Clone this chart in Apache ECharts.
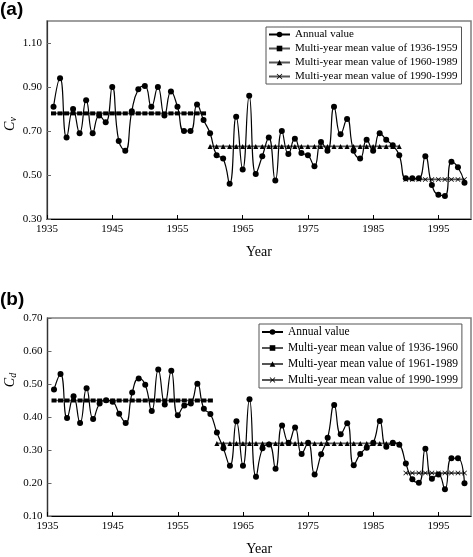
<!DOCTYPE html>
<html><head><meta charset="utf-8">
<script src="https://cdn.jsdelivr.net/npm/echarts@6/dist/echarts.min.js"></script>
<style>html,body{margin:0;padding:0;background:#fff}#c{width:473px;height:557px}</style>
</head><body><div id="c"></div>
<script>
const years = [1936,1937,1938,1939,1940,1941,1942,1943,1944,1945,
  1946,1947,1948,1949,1950,1951,1952,1953,1954,1955,
  1956,1957,1958,1959,1960,1961,1962,1963,1964,1965,
  1966,1967,1968,1969,1970,1971,1972,1973,1974,1975,
  1976,1977,1978,1979,1980,1981,1982,1983,1984,1985,
  1986,1987,1988,1989,1990,1991,1992,1993,1994,1995,
  1996,1997,1998,1999];
const cvValues = [0.81,0.94,0.67,0.80,0.69,0.84,0.69,0.77,0.74,0.90,
  0.655,0.61,0.79,0.89,0.905,0.81,0.90,0.77,0.88,0.81,
  0.70,0.70,0.82,0.75,0.69,0.59,0.575,0.46,0.765,0.525,
  0.86,0.505,0.585,0.67,0.475,0.70,0.595,0.665,0.60,0.59,
  0.54,0.65,0.61,0.81,0.685,0.755,0.61,0.575,0.66,0.61,
  0.69,0.66,0.635,0.59,0.485,0.485,0.485,0.585,0.455,0.41,
  0.405,0.56,0.535,0.465];
const cdValues = [0.483,0.53,0.397,0.463,0.382,0.487,0.394,0.441,0.451,0.446,
  0.41,0.382,0.474,0.517,0.498,0.418,0.544,0.438,0.54,0.405,
  0.435,0.441,0.501,0.425,0.409,0.353,0.305,0.252,0.387,0.252,
  0.454,0.219,0.305,0.317,0.243,0.374,0.322,0.368,0.288,0.322,
  0.226,0.287,0.337,0.436,0.348,0.381,0.254,0.288,0.307,0.322,
  0.388,0.31,0.322,0.316,0.259,0.211,0.201,0.304,0.213,0.226,
  0.181,0.275,0.275,0.199];
const cvPeriods = [[1936,1959],[1960,1989],[1990,1999]];
const cvMeans = [0.78,0.63,0.48];
const cdPeriods = [[1936,1960],[1961,1989],[1990,1999]];
const cdMeans = [0.45,0.32,0.23];
const xTicks = {min:1935, max:2000, interval:10};
const cvAxis = {min:0.3, max:1.2, interval:0.2};
const cdAxis = {min:0.1, max:0.7, interval:0.1};
const annualName = 'Annual value';
const cvMeanNames = ['Multi-year mean value of 1936-1959','Multi-year mean value of 1960-1989','Multi-year mean value of 1990-1999'];
const cdMeanNames = ['Multi-year mean value of 1936-1960','Multi-year mean value of 1961-1989','Multi-year mean value of 1990-1999'];

const SERIF = 'Liberation Serif';
const xMark = 'path://M0,1L1,0L5,4L9,0L10,1L6,5L10,9L9,10L5,6L1,10L0,9L4,5Z';
const meanSymbols = ['rect','triangle',xMark];
const meanSizes = [[5,4],5,5];

function pairs(vals){ return years.map((y,i)=>[y,vals[i]]); }
function meanData(period, m){ return years.filter(y=>y>=period[0]&&y<=period[1]).map(y=>[y,m]); }

function xAxisCfg(gi){
  return {type:'value', gridIndex:gi, min:xTicks.min, max:xTicks.max, interval:xTicks.interval,
    name:'Year', nameLocation:'middle', nameGap:26,
    nameTextStyle:{fontFamily:SERIF,fontSize:14,color:'#000'},
    axisLine:{show:true,lineStyle:{color:'#000',width:1.2}},
    axisTick:{show:true,inside:true,length:4,lineStyle:{color:'#000'}},
    axisLabel:{fontFamily:SERIF,fontSize:11,color:'#000',margin:5,showMaxLabel:false,formatter:v=>String(v)},
    splitLine:{show:false}};
}
function yAxisCfg(gi, ax){
  return {type:'value', gridIndex:gi, min:ax.min, max:ax.max, interval:ax.interval,
    axisLine:{show:true,lineStyle:{color:'#333',width:1.2}},
    axisTick:{show:true,inside:true,length:4,lineStyle:{color:'#666'}},
    axisLabel:{fontFamily:SERIF,fontSize:11,color:'#000',margin:5,showMaxLabel: ax.max!==1.2 ? true : false,formatter:v=>v.toFixed(2)},
    splitLine:{show:false}};
}
function annualSeries(gi, vals){
  return {name:annualName, type:'line', xAxisIndex:gi, yAxisIndex:gi, data:pairs(vals),
    smooth:0.5, symbol:'circle', symbolSize:6, showSymbol:true,
    lineStyle:{color:'#000',width:1.2}, itemStyle:{color:'#000'}, z:5};
}
function meanSeries(gi, names, periods, means){
  return periods.map((p,k)=>({name:names[k], type:'line', xAxisIndex:gi, yAxisIndex:gi,
    data:meanData(p,means[k]), symbol:meanSymbols[k], symbolSize:meanSizes[k],
    lineStyle:{color:'#555',width:1.6}, itemStyle:{color:'#000'}, z:4}));
}
function legendCfg(names, left, top, fs, gap){
  return {orient:'vertical', left:left, top:top, data:names,
    itemWidth:21, itemHeight:7, itemGap:gap, padding:[2,4,2,2],
    borderColor:'#555', borderWidth:1, backgroundColor:'#fff',
    textStyle:{fontFamily:SERIF,fontSize:fs,color:'#000'}, selectedMode:false};
}

const chart = echarts.init(document.getElementById('c'));
chart.setOption({
  animation:false,
  backgroundColor:'#fff',
  grid:[
    {left:47, right:2, top:21, height:198, show:true, borderColor:'#7f7f7f', borderWidth:1.5, backgroundColor:'transparent'},
    {left:47.5, right:2, top:318, height:198, show:true, borderColor:'#7f7f7f', borderWidth:1.5, backgroundColor:'transparent'}
  ],
  xAxis:[xAxisCfg(0), xAxisCfg(1)],
  yAxis:[yAxisCfg(0,cvAxis), yAxisCfg(1,cdAxis)],
  legend:[
    legendCfg([annualName].concat(cvMeanNames), 266, 27, 11, 3),
    legendCfg([annualName].concat(cdMeanNames), 259, 324, 11.5, 4)
  ],
  series:[annualSeries(0,cvValues)].concat(meanSeries(0,cvMeanNames,cvPeriods,cvMeans))
    .concat([annualSeries(1,cdValues)]).concat(meanSeries(1,cdMeanNames,cdPeriods,cdMeans)),
  graphic:[
    {type:'text', left:0, top:0, style:{text:'(a)', font:'bold 19px "Liberation Sans"', fill:'#000'}},
    {type:'text', left:0, top:290, style:{text:'(b)', font:'bold 19px "Liberation Sans"', fill:'#000'}},
    {type:'text', x:10, y:124, rotation:Math.PI/2, style:{text:'{c|C}{s|v}', align:'center', verticalAlign:'middle',
      rich:{c:{fontFamily:SERIF,fontStyle:'italic',fontSize:14,fill:'#000'}, s:{fontFamily:SERIF,fontStyle:'italic',fontSize:10,fill:'#000',padding:[6,0,0,0]}}}},
    {type:'text', x:10, y:380, rotation:Math.PI/2, style:{text:'{c|C}{s|d}', align:'center', verticalAlign:'middle',
      rich:{c:{fontFamily:SERIF,fontStyle:'italic',fontSize:14,fill:'#000'}, s:{fontFamily:SERIF,fontStyle:'italic',fontSize:10,fill:'#000',padding:[6,0,0,0]}}}}
  ]
});
</script></body></html>
